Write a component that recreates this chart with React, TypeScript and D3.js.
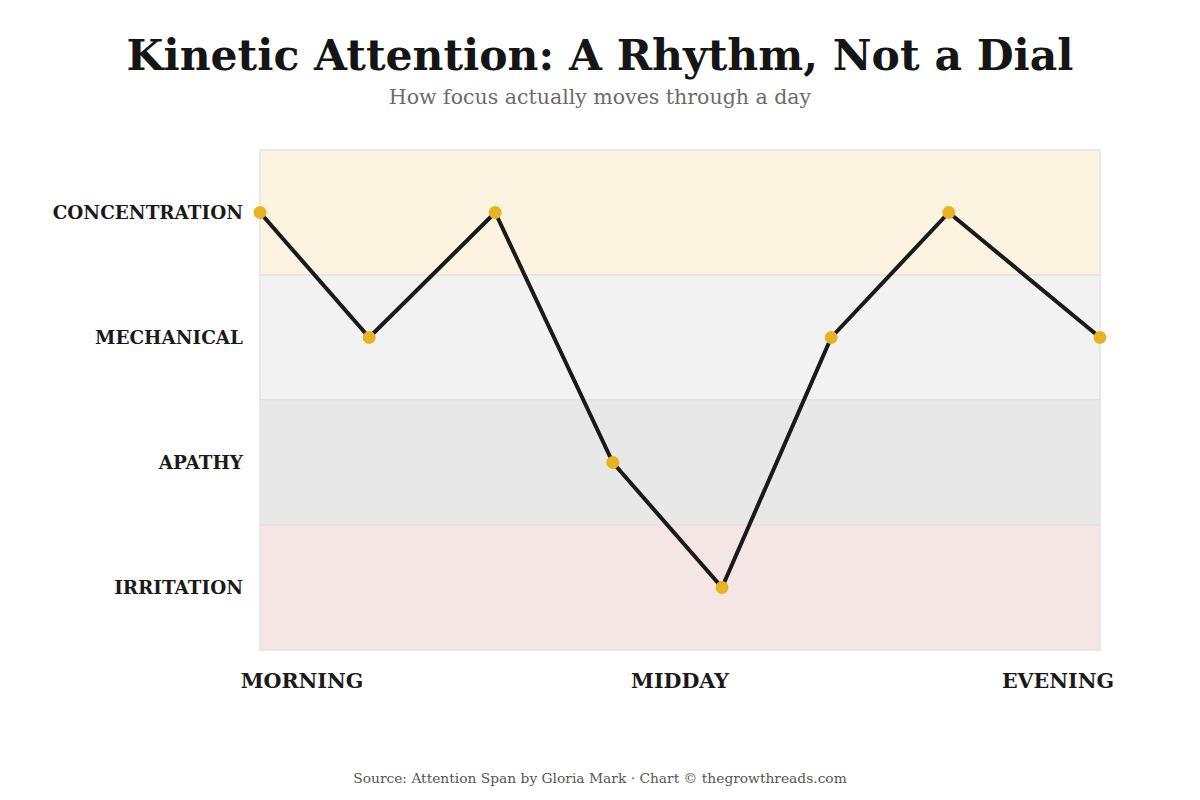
import React from 'react';
import * as d3 from 'd3';

// attention states, top to bottom
const states = ['CONCENTRATION', 'MECHANICAL', 'APATHY', 'IRRITATION'];
const bandFills = ['#fcf3e0', '#f2f2f2', '#e8e8e8', '#f5e5e4'];

// position through the day (0 = start, 100 = end) and the state at that moment
const dayPos = [0, 13, 28, 42, 55, 68, 82, 100];
const dayState = [
  'CONCENTRATION',
  'MECHANICAL',
  'CONCENTRATION',
  'APATHY',
  'IRRITATION',
  'MECHANICAL',
  'CONCENTRATION',
  'MECHANICAL',
];

const timeLabels = ['MORNING', 'MIDDAY', 'EVENING'];
const timeLabelPos = [5, 50, 95];

const W = 1200;
const H = 800;
const margin = { left: 260, right: 100, top: 150, bottom: 150 };
const serif = "'DejaVu Serif', Georgia, serif";

export default function App() {
  const x = d3.scaleLinear().domain([0, 100]).range([margin.left, W - margin.right]);
  const y = d3.scaleBand().domain(states).range([margin.top, H - margin.bottom]);

  const pts = dayPos.map((p, i) => ({ p, s: dayState[i] }));
  const line = d3
    .line<{ p: number; s: string }>()
    .x((d) => x(d.p))
    .y((d) => (y(d.s) as number) + y.bandwidth() / 2);

  return (
    <svg width={W} height={H} style={{ position: 'absolute', left: 0, top: 0, background: '#fff' }}>
      <text x={W / 2} y={70} textAnchor="middle" fontFamily={serif} fontWeight="bold" fontSize={42.5} fill="#151515">
        Kinetic Attention: A Rhythm, Not a Dial
      </text>
      <text x={W / 2} y={104} textAnchor="middle" fontFamily={serif} fontSize={20.5} fill="#6b6b6b">
        How focus actually moves through a day
      </text>

      {states.map((s, i) => (
        <rect
          key={s}
          x={x(0)}
          y={y(s)}
          width={x(100) - x(0)}
          height={y.bandwidth()}
          fill={bandFills[i]}
          stroke="#e3e3e3"
          strokeWidth={1.5}
        />
      ))}

      {states.map((s) => (
        <text
          key={s}
          x={margin.left - 17}
          y={(y(s) as number) + y.bandwidth() / 2}
          dy="0.35em"
          textAnchor="end"
          fontFamily={serif}
          fontWeight="bold"
          fontSize={18.4}
          fill="#1a1a1a"
        >
          {s}
        </text>
      ))}

      {timeLabels.map((t, i) => (
        <text
          key={t}
          x={x(timeLabelPos[i])}
          y={688}
          textAnchor="middle"
          fontFamily={serif}
          fontWeight="bold"
          fontSize={20.6}
          fill="#1a1a1a"
        >
          {t}
        </text>
      ))}

      <path d={line(pts) || ''} fill="none" stroke="#1a1a1a" strokeWidth={4} strokeLinejoin="round" />
      {pts.map((d, i) => (
        <circle key={i} cx={x(d.p)} cy={(y(d.s) as number) + y.bandwidth() / 2} r={6.5} fill="#e6b422" />
      ))}

      <text x={W / 2} y={783} textAnchor="middle" fontFamily={serif} fontSize={13.8} fill="#555">
        Source: Attention Span by Gloria Mark · Chart © thegrowthreads.com
      </text>
    </svg>
  );
}
